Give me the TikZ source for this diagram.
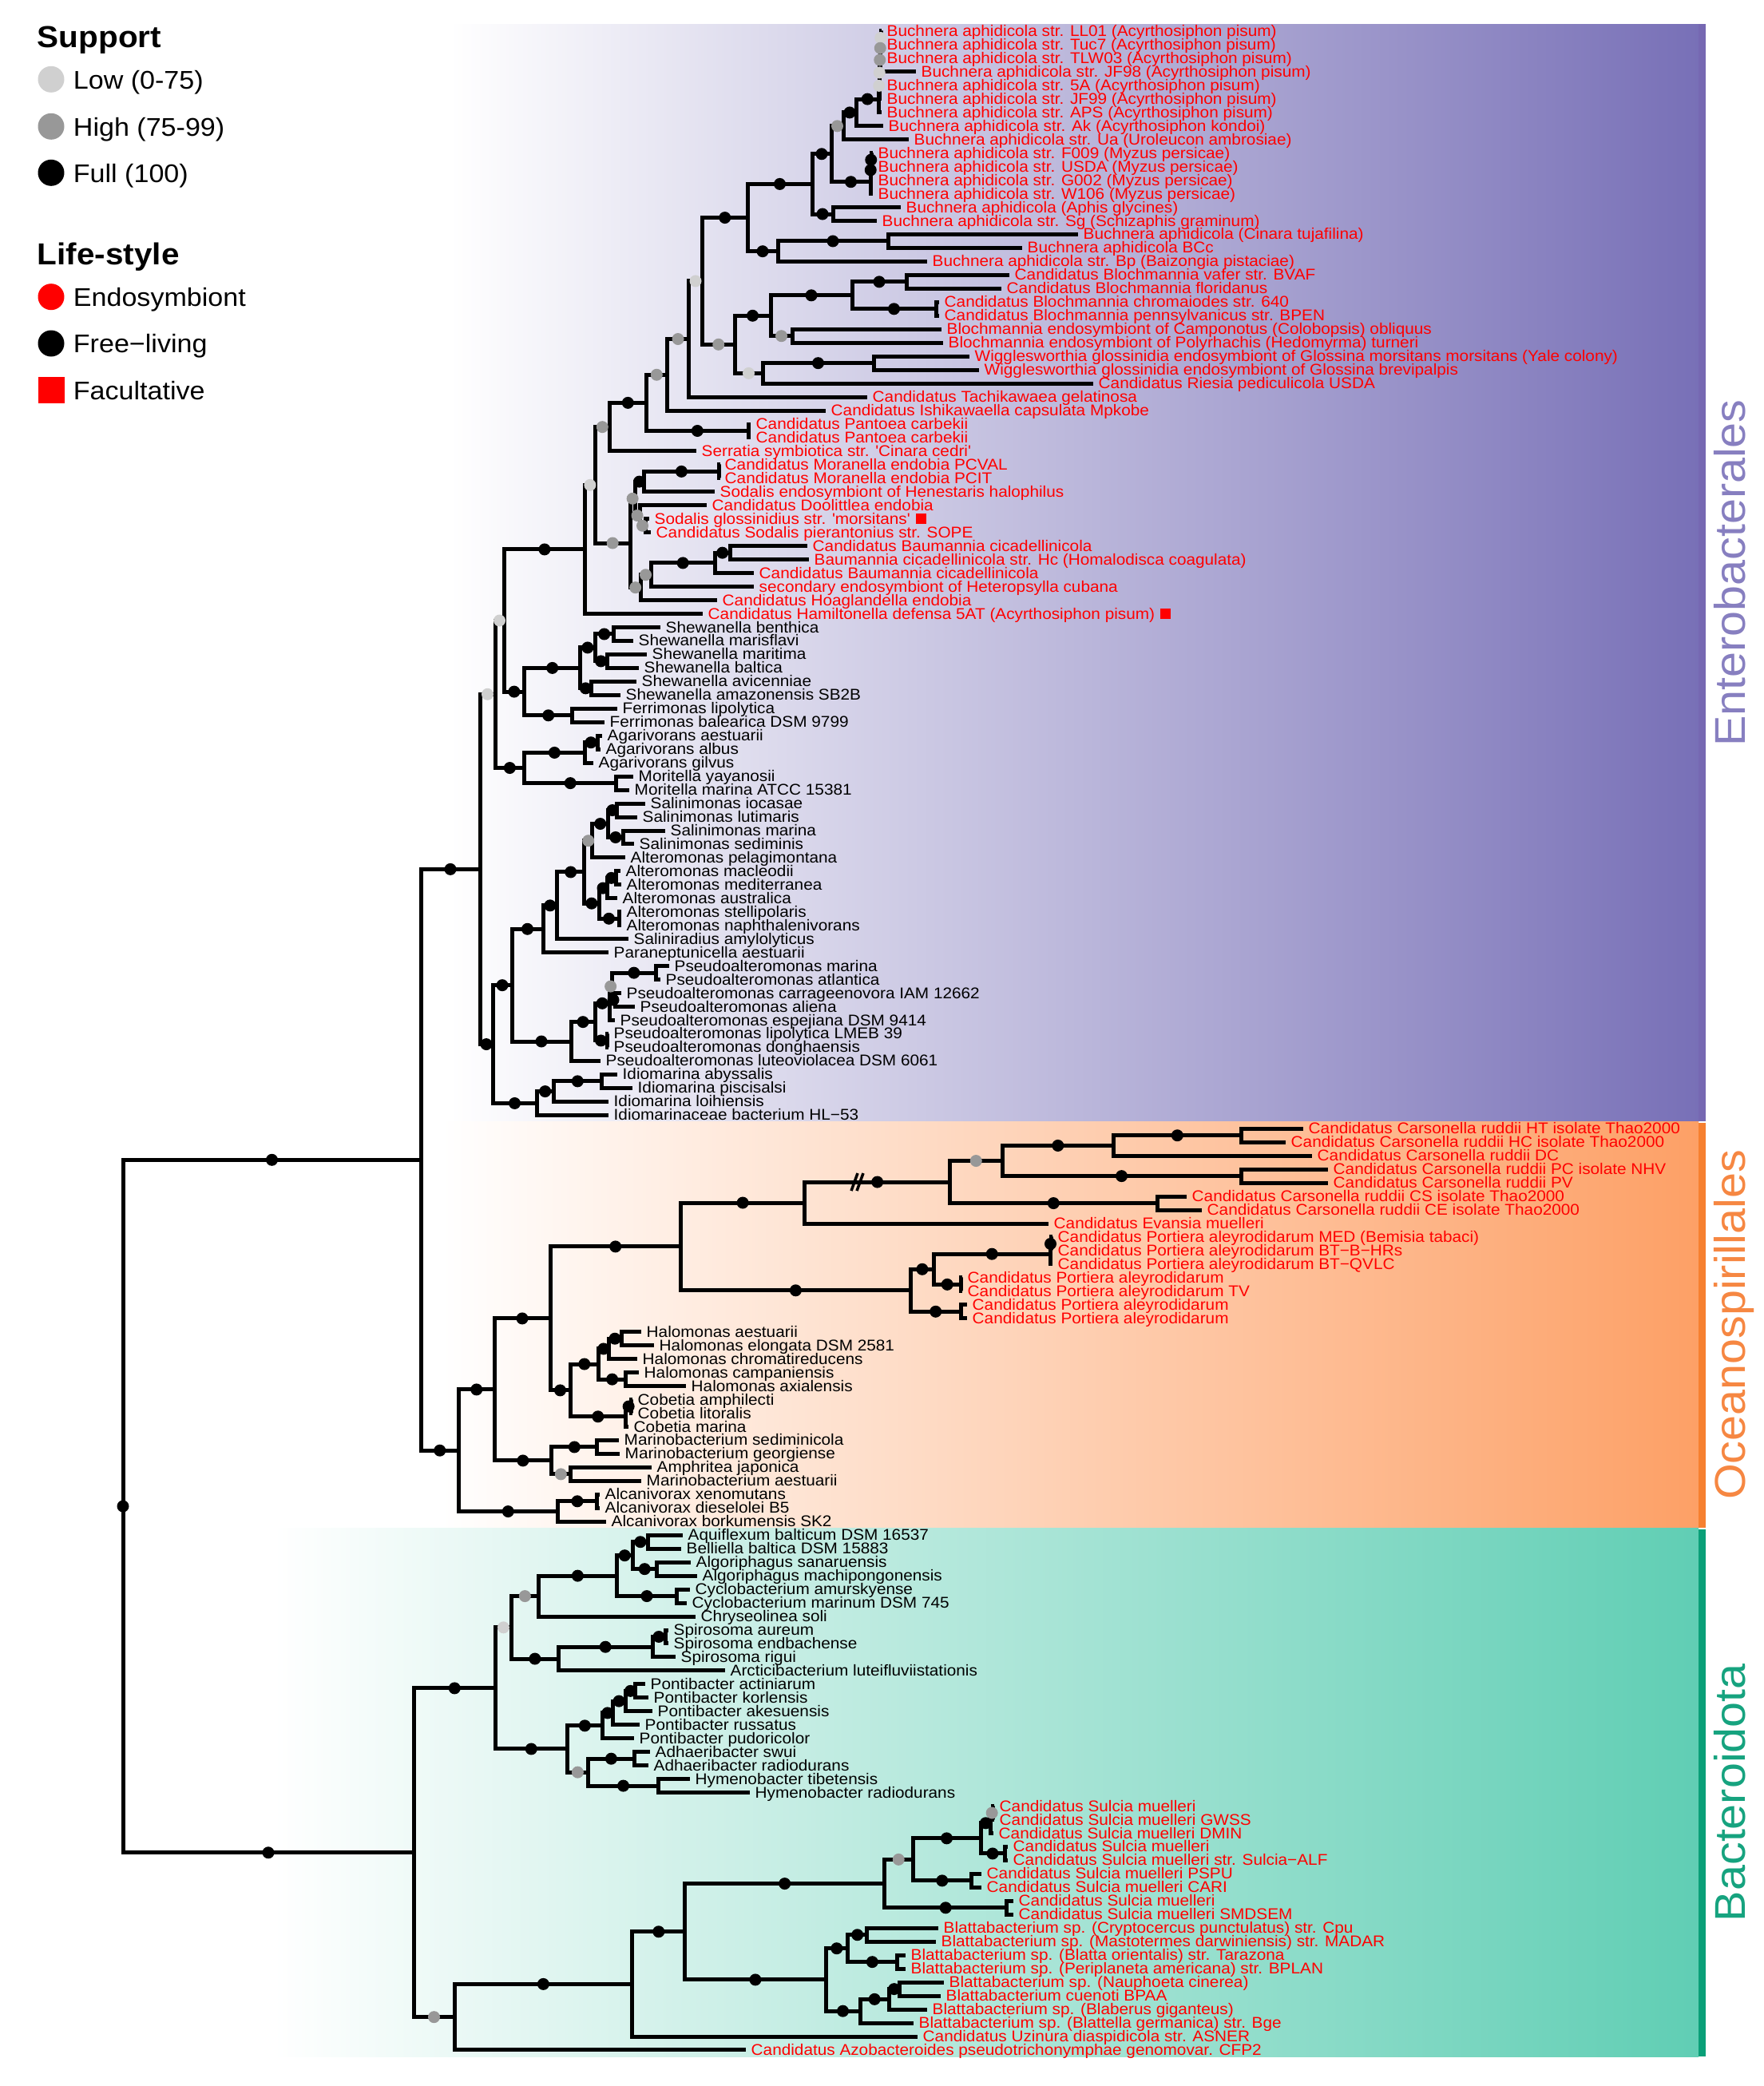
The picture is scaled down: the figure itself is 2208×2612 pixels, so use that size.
\documentclass[tikz,border=0pt]{standalone}
\usepackage{fontspec}
\setmainfont{Liberation Sans}
\newfontfamily\labfont[FakeStretch=1.065]{Liberation Sans}
\usetikzlibrary{calc}
\pgfdeclarelayer{bg}
\pgfdeclarelayer{fg}
\pgfsetlayers{bg,main,fg}
\definecolor{lowc}{RGB}{208,208,208}
\definecolor{highc}{RGB}{152,152,152}
\definecolor{endo}{RGB}{255,0,0}
\definecolor{entC}{RGB}{120,112,183}
\definecolor{entS}{RGB}{118,104,178}
\definecolor{entT}{RGB}{135,127,192}
\definecolor{ocnC}{RGB}{253,160,102}
\definecolor{ocnS}{RGB}{246,128,48}
\definecolor{ocnT}{RGB}{246,135,66}
\definecolor{bacC}{RGB}{96,206,180}
\definecolor{bacS}{RGB}{10,160,120}
\definecolor{bacT}{RGB}{22,163,127}
\tikzset{
  br/.style={line width=5pt, line join=miter, draw=black},
  dot/.style={circle, inner sep=0pt, minimum size=15pt, draw=none},
  lab/.style={anchor=base west, inner sep=0pt, font=\labfont\fontsize{19.5}{20}\selectfont},
  rlab/.style={lab, text=endo},
  klab/.style={lab, text=black},
  sq/.style={rectangle, fill=endo, inner sep=0pt, minimum size=13pt},
  legt/.style={anchor=base west, inner sep=0pt, font=\labfont\bfseries\fontsize{38}{40}\selectfont},
  legi/.style={anchor=base west, inner sep=0pt, font=\labfont\fontsize{32}{34}\selectfont},
  clade/.style={rotate=90, anchor=base, inner sep=0pt, font=\labfont\fontsize{54}{56}\selectfont},
}
\newcommand\LF[5]{%
  \coordinate (#1) at (#3,{39+(#2-1)*16.966});
  \node[#4] (#1-t) at ($(#1)+(6.5,6.5)$) {#5};
}
\newcommand\LR[4]{\LF{#1}{#2}{#3}{rlab}{#4}}
\newcommand\LK[4]{\LF{#1}{#2}{#3}{klab}{#4}}
\makeatletter
\newcommand\ND[4]{%
  \gdef\nd@sum{0}\gdef\nd@cnt{0}%
  \foreach \nch in {#4}{%
    \pgfpointanchor{\nch}{center}\pgfgetlastxy{\nd@x}{\nd@y}%
    \pgfmathsetmacro\nd@t{\nd@sum+\nd@y}\global\let\nd@sum\nd@t
    \pgfmathsetmacro\nd@t{\nd@cnt+1}\global\let\nd@cnt\nd@t
  }%
  \pgfmathsetmacro\nd@yy{\nd@sum/\nd@cnt}%
  \coordinate (#1) at (#2pt,\nd@yy pt);
  \foreach \nch in {#4}{\draw[br] (#1) |- (\nch);}%
  \begin{pgfonlayer}{fg}%
  \foreach \nch in {#4}{%
    \ifcsname sup@\nch\endcsname
      \pgfpointanchor{\nch}{center}\pgfgetlastxy{\nd@x}{\nd@y}%
      \pgfmathsetmacro\nd@m{(#2pt+\nd@x)/2}%
      \edef\nd@col{\csname sup@\nch\endcsname}%
      \node[dot,fill=\nd@col] (d-\nch) at (\nd@m pt,\nd@y) {};
    \fi
  }%
  \end{pgfonlayer}%
  \expandafter\xdef\csname sup@#1\endcsname{#3}%
}
\makeatother
\begin{document}
\begin{tikzpicture}[x=1pt,y=-1pt]
\useasboundingbox (0,0) rectangle (2208,2612);
\begin{pgfonlayer}{bg}
\fill[white] (0,0) rectangle (2208,2612);
\shade[left color=white, right color=entC] (562,30.5) rectangle (2127,1404.7);
\shade[left color=white, right color=ocnC] (552,1404.7) rectangle (2127,1913.8);
\shade[left color=white, right color=bacC] (342,1913.8) rectangle (2127,2575.4);
\fill[entS] (2127,30.5) rectangle (2136,1403.5);
\fill[ocnS] (2127,1406) rectangle (2136,1912.5);
\fill[bacS] (2127,1915) rectangle (2136,2575.4);
\end{pgfonlayer}
% ---------- leaves ----------
\LR{b1}{1}{1104}{Buchnera aphidicola str. LL01 (Acyrthosiphon pisum)}
\LR{b2}{2}{1104}{Buchnera aphidicola str. Tuc7 (Acyrthosiphon pisum)}
\LR{b3}{3}{1104}{Buchnera aphidicola str. TLW03 (Acyrthosiphon pisum)}
\LR{b4}{4}{1147}{Buchnera aphidicola str. JF98 (Acyrthosiphon pisum)}
\LR{b5}{5}{1104}{Buchnera aphidicola str. 5A (Acyrthosiphon pisum)}
\LR{b6}{6}{1104}{Buchnera aphidicola str. JF99 (Acyrthosiphon pisum)}
\LR{b7}{7}{1104}{Buchnera aphidicola str. APS (Acyrthosiphon pisum)}
\LR{b8}{8}{1106}{Buchnera aphidicola str. Ak (Acyrthosiphon kondoi)}
\LR{b9}{9}{1138}{Buchnera aphidicola str. Ua (Uroleucon ambrosiae)}
\LR{b10}{10}{1093}{Buchnera aphidicola str. F009 (Myzus persicae)}
\LR{b11}{11}{1093}{Buchnera aphidicola str. USDA (Myzus persicae)}
\LR{b12}{12}{1093}{Buchnera aphidicola str. G002 (Myzus persicae)}
\LR{b13}{13}{1093}{Buchnera aphidicola str. W106 (Myzus persicae)}
\LR{b14}{14}{1128}{Buchnera aphidicola (Aphis glycines)}
\LR{b15}{15}{1098}{Buchnera aphidicola str. Sg (Schizaphis graminum)}
\LR{b16}{16}{1350}{Buchnera aphidicola (Cinara tujafilina)}
\LR{b17}{17}{1280}{Buchnera aphidicola BCc}
\LR{b18}{18}{1161}{Buchnera aphidicola str. Bp (Baizongia pistaciae)}
\LR{b19}{19}{1264}{Candidatus Blochmannia vafer str. BVAF}
\LR{b20}{20}{1254}{Candidatus Blochmannia floridanus}
\LR{b21}{21}{1176}{Candidatus Blochmannia chromaiodes str. 640}
\LR{b22}{22}{1176}{Candidatus Blochmannia pennsylvanicus str. BPEN}
\LR{b23}{23}{1179}{Blochmannia endosymbiont of Camponotus (Colobopsis) obliquus}
\LR{b24}{24}{1181}{Blochmannia endosymbiont of Polyrhachis (Hedomyrma) turneri}
\LR{b25}{25}{1214}{Wigglesworthia glossinidia endosymbiont of Glossina morsitans morsitans (Yale colony)}
\LR{b26}{26}{1226}{Wigglesworthia glossinidia endosymbiont of Glossina brevipalpis}
\LR{b27}{27}{1369}{Candidatus Riesia pediculicola USDA}
\LR{b28}{28}{1086}{Candidatus Tachikawaea gelatinosa}
\LR{b29}{29}{1034}{Candidatus Ishikawaella capsulata Mpkobe}
\LR{b30}{30}{940}{Candidatus Pantoea carbekii}
\LR{b31}{31}{940}{Candidatus Pantoea carbekii}
\LR{b32}{32}{872}{Serratia symbiotica str. \textquotesingle Cinara cedri\textquotesingle}
\LR{b33}{33}{901}{Candidatus Moranella endobia PCVAL}
\LR{b34}{34}{901}{Candidatus Moranella endobia PCIT}
\LR{b35}{35}{895}{Sodalis endosymbiont of Henestaris halophilus}
\LR{b36}{36}{885}{Candidatus Doolittlea endobia}
\LR{b37}{37}{813}{Sodalis glossinidius str. \textquotesingle morsitans\textquotesingle}
\LR{b38}{38}{815}{Candidatus Sodalis pierantonius str. SOPE}
\LR{b39}{39}{1011}{Candidatus Baumannia cicadellinicola}
\LR{b40}{40}{1013}{Baumannia cicadellinicola str. Hc (Homalodisca coagulata)}
\LR{b41}{41}{944}{Candidatus Baumannia cicadellinicola}
\LR{b42}{42}{944}{secondary endosymbiont of Heteropsylla cubana}
\LR{b43}{43}{898}{Candidatus Hoaglandella endobia}
\LR{b44}{44}{880}{Candidatus Hamiltonella defensa 5AT (Acyrthosiphon pisum)}
\LK{b45}{45}{827}{Shewanella benthica}
\LK{b46}{46}{793}{Shewanella marisflavi}
\LK{b47}{47}{810}{Shewanella maritima}
\LK{b48}{48}{800}{Shewanella baltica}
\LK{b49}{49}{797}{Shewanella avicenniae}
\LK{b50}{50}{777}{Shewanella amazonensis SB2B}
\LK{b51}{51}{773}{Ferrimonas lipolytica}
\LK{b52}{52}{757}{Ferrimonas balearica DSM 9799}
\LK{b53}{53}{754}{Agarivorans aestuarii}
\LK{b54}{54}{752}{Agarivorans albus}
\LK{b55}{55}{743}{Agarivorans gilvus}
\LK{b56}{56}{793}{Moritella yayanosii}
\LK{b57}{57}{788}{Moritella marina ATCC 15381}
\LK{b58}{58}{808}{Salinimonas iocasae}
\LK{b59}{59}{798}{Salinimonas lutimaris}
\LK{b60}{60}{833}{Salinimonas marina}
\LK{b61}{61}{794}{Salinimonas sediminis}
\LK{b62}{62}{783}{Alteromonas pelagimontana}
\LK{b63}{63}{777}{Alteromonas macleodii}
\LK{b64}{64}{778}{Alteromonas mediterranea}
\LK{b65}{65}{773}{Alteromonas australica}
\LK{b66}{66}{778}{Alteromonas stellipolaris}
\LK{b67}{67}{778}{Alteromonas naphthalenivorans}
\LK{b68}{68}{787}{Saliniradius amylolyticus}
\LK{b69}{69}{762}{Paraneptunicella aestuarii}
\LK{b70}{70}{838}{Pseudoalteromonas marina}
\LK{b71}{71}{827}{Pseudoalteromonas atlantica}
\LK{b72}{72}{778}{Pseudoalteromonas carrageenovora IAM 12662}
\LK{b73}{73}{795}{Pseudoalteromonas aliena}
\LK{b74}{74}{770}{Pseudoalteromonas espejiana DSM 9414}
\LK{b75}{75}{762}{Pseudoalteromonas lipolytica LMEB 39}
\LK{b76}{76}{762}{Pseudoalteromonas donghaensis}
\LK{b77}{77}{752}{Pseudoalteromonas luteoviolacea DSM 6061}
\LK{b78}{78}{773}{Idiomarina abyssalis}
\LK{b79}{79}{792}{Idiomarina piscisalsi}
\LK{b80}{80}{762}{Idiomarina loihiensis}
\LK{b81}{81}{762}{Idiomarinaceae bacterium HL−53}
\LR{b82}{82}{1632}{Candidatus Carsonella ruddii HT isolate Thao2000}
\LR{b83}{83}{1610}{Candidatus Carsonella ruddii HC isolate Thao2000}
\LR{b84}{84}{1643}{Candidatus Carsonella ruddii DC}
\LR{b85}{85}{1663}{Candidatus Carsonella ruddii PC isolate NHV}
\LR{b86}{86}{1663}{Candidatus Carsonella ruddii PV}
\LR{b87}{87}{1486}{Candidatus Carsonella ruddii CS isolate Thao2000}
\LR{b88}{88}{1505}{Candidatus Carsonella ruddii CE isolate Thao2000}
\LR{b89}{89}{1313}{Candidatus Evansia muelleri}
\LR{b90}{90}{1318}{Candidatus Portiera aleyrodidarum MED (Bemisia tabaci)}
\LR{b91}{91}{1318}{Candidatus Portiera aleyrodidarum BT−B−HRs}
\LR{b92}{92}{1318}{Candidatus Portiera aleyrodidarum BT−QVLC}
\LR{b93}{93}{1205}{Candidatus Portiera aleyrodidarum}
\LR{b94}{94}{1205}{Candidatus Portiera aleyrodidarum TV}
\LR{b95}{95}{1211}{Candidatus Portiera aleyrodidarum}
\LR{b96}{96}{1211}{Candidatus Portiera aleyrodidarum}
\LK{b97}{97}{803}{Halomonas aestuarii}
\LK{b98}{98}{819}{Halomonas elongata DSM 2581}
\LK{b99}{99}{798}{Halomonas chromatireducens}
\LK{b100}{100}{800}{Halomonas campaniensis}
\LK{b101}{101}{859}{Halomonas axialensis}
\LK{b102}{102}{792}{Cobetia amphilecti}
\LK{b103}{103}{792}{Cobetia litoralis}
\LK{b104}{104}{787}{Cobetia marina}
\LK{b105}{105}{775}{Marinobacterium sediminicola}
\LK{b106}{106}{776}{Marinobacterium georgiense}
\LK{b107}{107}{816}{Amphritea japonica}
\LK{b108}{108}{803}{Marinobacterium aestuarii}
\LK{b109}{109}{751}{Alcanivorax xenomutans}
\LK{b110}{110}{751}{Alcanivorax dieselolei B5}
\LK{b111}{111}{759}{Alcanivorax borkumensis SK2}
\LK{b112}{112}{855}{Aquiflexum balticum DSM 16537}
\LK{b113}{113}{853}{Belliella baltica DSM 15883}
\LK{b114}{114}{865}{Algoriphagus sanaruensis}
\LK{b115}{115}{873}{Algoriphagus machipongonensis}
\LK{b116}{116}{864}{Cyclobacterium amurskyense}
\LK{b117}{117}{860}{Cyclobacterium marinum DSM 745}
\LK{b118}{118}{871}{Chryseolinea soli}
\LK{b119}{119}{837}{Spirosoma aureum}
\LK{b120}{120}{837}{Spirosoma endbachense}
\LK{b121}{121}{846}{Spirosoma rigui}
\LK{b122}{122}{908}{Arcticibacterium luteifluviistationis}
\LK{b123}{123}{808}{Pontibacter actiniarum}
\LK{b124}{124}{812}{Pontibacter korlensis}
\LK{b125}{125}{817}{Pontibacter akesuensis}
\LK{b126}{126}{801}{Pontibacter russatus}
\LK{b127}{127}{794}{Pontibacter pudoricolor}
\LK{b128}{128}{814}{Adhaeribacter swui}
\LK{b129}{129}{812}{Adhaeribacter radiodurans}
\LK{b130}{130}{864}{Hymenobacter tibetensis}
\LK{b131}{131}{939}{Hymenobacter radiodurans}
\LR{b132}{132}{1245}{Candidatus Sulcia muelleri}
\LR{b133}{133}{1245}{Candidatus Sulcia muelleri GWSS}
\LR{b134}{134}{1244}{Candidatus Sulcia muelleri DMIN}
\LR{b135}{135}{1262}{Candidatus Sulcia muelleri}
\LR{b136}{136}{1262}{Candidatus Sulcia muelleri str. Sulcia−ALF}
\LR{b137}{137}{1229}{Candidatus Sulcia muelleri PSPU}
\LR{b138}{138}{1229}{Candidatus Sulcia muelleri CARI}
\LR{b139}{139}{1269}{Candidatus Sulcia muelleri}
\LR{b140}{140}{1269}{Candidatus Sulcia muelleri SMDSEM}
\LR{b141}{141}{1175}{Blattabacterium sp. (Cryptocercus punctulatus) str. Cpu}
\LR{b142}{142}{1172}{Blattabacterium sp. (Mastotermes darwiniensis) str. MADAR}
\LR{b143}{143}{1134}{Blattabacterium sp. (Blatta orientalis) str. Tarazona}
\LR{b144}{144}{1134}{Blattabacterium sp. (Periplaneta americana) str. BPLAN}
\LR{b145}{145}{1182}{Blattabacterium sp. (Nauphoeta cinerea)}
\LR{b146}{146}{1178}{Blattabacterium cuenoti BPAA}
\LR{b147}{147}{1161}{Blattabacterium sp. (Blaberus giganteus)}
\LR{b148}{148}{1144}{Blattabacterium sp. (Blattella germanica) str. Bge}
\LR{b149}{149}{1149}{Candidatus Uzinura diaspidicola str. ASNER}
\LR{b150}{150}{934}{Candidatus Azobacteroides pseudotrichonymphae genomovar. CFP2}
% ---------- internal nodes: Enterobacterales ----------
\ND{nA}{1103}{lowc}{b1,b2}
\ND{nB}{1102.5}{highc}{nA,b3}
\ND{nC}{1102}{highc}{nB,b4}
\ND{nD}{1101.5}{lowc}{nC,b5}
\ND{nE}{1101}{lowc}{nD,b6}
\ND{nF}{1100.5}{black}{nE,b7}
\ND{nG}{1072}{black}{nF,b8}
\ND{nH}{1056}{highc}{nG,b9}
\ND{nL}{1091}{black}{b10,b11}
\ND{nK}{1090.5}{black}{nL,b12}
\ND{nJ}{1090}{black}{nK,b13}
\ND{nI}{1041}{black}{nH,nJ}
\ND{nN}{1043}{black}{b14,b15}
\ND{nM}{1017}{black}{nI,nN}
\ND{nQ}{1112}{black}{b16,b17}
\ND{nP}{974}{black}{nQ,b18}
\ND{nO}{936}{black}{nM,nP}
\ND{nY}{1135}{black}{b19,b20}
\ND{nZ}{1172}{black}{b21,b22}
\ND{nW}{1067}{black}{nY,nZ}
\ND{nX}{992}{highc}{b23,b24}
\ND{nU}{965}{black}{nW,nX}
\ND{nAA}{1094}{black}{b25,b26}
\ND{nV}{955}{lowc}{nAA,b27}
\ND{nS}{920}{highc}{nU,nV}
\ND{nR}{879.5}{lowc}{nO,nS}
\ND{nT}{862.5}{highc}{nR,b28}
\ND{nAB}{835.6}{highc}{nT,b29}
\ND{nAD}{937.6}{black}{b30,b31}
\ND{nAC}{809}{black}{nAB,nAD}
\ND{nAE}{763.6}{highc}{nAC,b32}
\ND{nAI}{900.8}{black}{b33,b34}
\ND{nAJ}{806}{black}{nAI,b35}
\ND{nAK}{808}{highc}{b37,b38}
\ND{nAL}{801}{highc}{b36,nAK}
\ND{nAM}{795}{highc}{nAJ,nAL}
\ND{nAO}{914}{black}{b39,b40}
\ND{nAP}{895.3}{black}{nAO,b41}
\ND{nAQ}{815}{highc}{nAP,b42}
\ND{nAR}{802}{highc}{nAQ,b43}
\ND{nAG}{789.3}{highc}{nAM,nAR}
\ND{nAF}{745}{lowc}{nAE,nAG}
\ND{nAH}{732.8}{black}{nAF,b44}
\ND{nBE}{768.3}{black}{b45,b46}
\ND{nBF}{760}{black}{b47,b48}
\ND{nBG}{745}{black}{nBE,nBF}
\ND{nBH}{740}{black}{b49,b50}
\ND{nBC}{726.7}{black}{nBG,nBH}
\ND{nBD}{716.7}{black}{b51,b52}
\ND{nBA}{656.7}{black}{nBC,nBD}
\ND{nAS}{631}{lowc}{nAH,nBA}
\ND{nBK}{748}{black}{b53,b54}
\ND{nBI}{732}{black}{nBK,b55}
\ND{nBJ}{771.7}{black}{b56,b57}
\ND{nBB}{656.7}{black}{nBI,nBJ}
\ND{nAT}{620}{lowc}{nAS,nBB}
\ND{nBP}{772}{black}{b58,b59}
\ND{nBQ}{780}{black}{b60,b61}
\ND{nBR}{761.7}{black}{nBP,nBQ}
\ND{nBN}{741.7}{highc}{nBR,b62}
\ND{nBU}{771}{black}{b63,b64}
\ND{nBS}{760}{black}{nBU,b65}
\ND{nBT}{775}{black}{b66,b67}
\ND{nBO}{750}{black}{nBS,nBT}
\ND{nBM}{731.7}{black}{nBN,nBO}
\ND{nBL}{697.7}{black}{nBM,b68}
\ND{nAY}{680}{black}{nBL,b69}
\ND{nBY}{821.7}{black}{b70,b71}
\ND{nZZ}{770}{black}{b72,b73}
\ND{nCA}{766}{highc}{nBY,nZZ}
\ND{nBW}{763.3}{black}{nCA,b74}
\ND{nBX}{760}{black}{b75,b76}
\ND{nBV}{745}{black}{nBW,nBX}
\ND{nAZ}{715}{black}{nBV,b77}
\ND{nAW}{641}{black}{nAY,nAZ}
\ND{nCC}{753.3}{black}{b78,b79}
\ND{nCB}{693.3}{black}{nCC,b80}
\ND{nAX}{672}{black}{nCB,b81}
\ND{nAV}{617}{black}{nAW,nAX}
\ND{nAU}{601}{black}{nAT,nAV}
% ---------- Oceanospirillales ----------
\ND{nDC}{1554}{black}{b82,b83}
\ND{nDA}{1394.6}{black}{nDC,b84}
\ND{nDB}{1554}{black}{b85,b86}
\ND{nCY}{1255}{highc}{nDA,nDB}
\ND{nCZ}{1449}{black}{b87,b88}
\ND{nCX}{1189.5}{black}{nCY,nCZ}
\ND{nCV}{1007.8}{black}{nCX,b89}
\ND{nPa}{1316}{black}{b90,b91}
\ND{nDF}{1315}{black}{nPa,b92}
\ND{nDG}{1203}{black}{b93,b94}
\ND{nDD}{1169.4}{black}{nDF,nDG}
\ND{nDE}{1203}{black}{b95,b96}
\ND{nCW}{1140.4}{black}{nDD,nDE}
\ND{nCK}{852.4}{black}{nCV,nCW}
\ND{nCQ}{778}{black}{b97,b98}
\ND{nCO}{762}{black}{nCQ,b99}
\ND{nCP}{783.6}{black}{b100,b101}
\ND{nCM}{749.6}{black}{nCO,nCP}
\ND{nCR}{790.7}{black}{b102,b103}
\ND{nCN}{783.6}{black}{nCR,b104}
\ND{nCL}{714}{black}{nCM,nCN}
\ND{nCI}{689}{black}{nCK,nCL}
\ND{nCS}{747.9}{black}{b105,b106}
\ND{nCT}{714}{highc}{b107,b108}
\ND{nCJ}{690.7}{black}{nCS,nCT}
\ND{nCF}{619}{black}{nCI,nCJ}
\ND{nCU}{747.9}{black}{b109,b110}
\ND{nCG}{698}{black}{nCU,b111}
\ND{nCE}{574.5}{black}{nCF,nCG}
\ND{nCD}{527}{black}{nAU,nCE}
% ---------- Bacteroidota ----------
\ND{nDP}{811.8}{black}{b112,b113}
\ND{nDQ}{822.5}{black}{b114,b115}
\ND{nDN}{792}{black}{nDP,nDQ}
\ND{nDO}{847.5}{black}{b116,b117}
\ND{nDM}{772.5}{black}{nDN,nDO}
\ND{nDK}{674.3}{highc}{nDM,b118}
\ND{nDS}{833}{black}{b119,b120}
\ND{nDR}{817}{black}{nDS,b121}
\ND{nDL}{699.3}{black}{nDR,b122}
\ND{nDI}{640.4}{lowc}{nDK,nDL}
\ND{nDV}{795.7}{black}{b123,b124}
\ND{nDW}{783.2}{black}{nDV,b125}
\ND{nDX}{767}{black}{nDW,b126}
\ND{nDT}{754.6}{black}{nDX,b127}
\ND{nDY}{794}{black}{b128,b129}
\ND{nDZ}{824.3}{black}{b130,b131}
\ND{nDU}{736.8}{highc}{nDY,nDZ}
\ND{nDJ}{710}{black}{nDT,nDU}
\ND{nDH}{620.5}{black}{nDI,nDJ}
\ND{nSa}{1243.6}{highc}{b132,b133}
\ND{nEJ}{1240.7}{black}{nSa,b134}
\ND{nEK}{1258}{black}{b135,b136}
\ND{nEH}{1228}{black}{nEJ,nEK}
\ND{nEI}{1216.6}{black}{b137,b138}
\ND{nEF}{1143}{highc}{nEH,nEI}
\ND{nEG}{1260.8}{black}{b139,b140}
\ND{nED}{1107.5}{black}{nEF,nEG}
\ND{nEN}{1085.7}{black}{b141,b142}
\ND{nEO}{1123}{black}{b143,b144}
\ND{nEL}{1061.6}{black}{nEN,nEO}
\ND{nEQ}{1126}{black}{b145,b146}
\ND{nEP}{1113.3}{black}{nEQ,b147}
\ND{nEM}{1077}{black}{nEP,b148}
\ND{nEE}{1034}{black}{nEL,nEM}
\ND{nEC}{857.8}{black}{nED,nEE}
\ND{nEB}{791.8}{black}{nEC,b149}
\ND{nEA}{569}{highc}{nEB,b150}
\ND{nCH}{518}{black}{nDH,nEA}
\ND{root}{154}{black}{nCD,nCH}
\begin{pgfonlayer}{fg}
\node[dot,fill=black] (d-root) at (root) {};
\end{pgfonlayer}
% axis break on the long branch
\draw[line width=3.5pt] ($(nCX)+(-123.5,11)$) -- ++(8,-22);
\draw[line width=3.5pt] ($(nCX)+(-116.5,11)$) -- ++(8,-22);
% facultative markers
\node[sq] (sq1) at ($(b37-t.base east)+(13.5,-6.5)$) {};
\node[sq] (sq2) at ($(b44-t.base east)+(13.5,-6.5)$) {};
% clade labels
\node[clade, text=entT] (cl1) at (2185,717.6) {Enterobacterales};
\node[clade, text=ocnT] (cl2) at (2185,1659) {Oceanospirillales};
\node[clade, text=bacT] (cl3) at (2185,2244.6) {Bacteroidota};
% legend
\node[legt] (lg1) at (46.7,60) {Support};
\node[dot, minimum size=33pt, fill=lowc] (lgc1) at (64,99.3) {};
\node[legi] (lgt1) at (91.7,111.7) {Low (0-75)};
\node[dot, minimum size=33pt, fill=highc] (lgc2) at (64,158.3) {};
\node[legi] (lgt2) at (91.7,170) {High (75-99)};
\node[dot, minimum size=33pt, fill=black] (lgc3) at (64,216.3) {};
\node[legi] (lgt3) at (91.7,228.3) {Full (100)};
\node[legt] (lg2) at (46.7,331.7) {Life-style};
\node[dot, minimum size=33pt, fill=endo] (lgc4) at (64,371.7) {};
\node[legi] (lgt4) at (91.7,383.3) {Endosymbiont};
\node[dot, minimum size=33pt, fill=black] (lgc5) at (64,430) {};
\node[legi] (lgt5) at (91.7,441.7) {Free−living};
\node[sq, minimum size=33pt] (lgc6) at (64.7,488) {};
\node[legi] (lgt6) at (91.7,500) {Facultative};
\end{tikzpicture}
\end{document}
